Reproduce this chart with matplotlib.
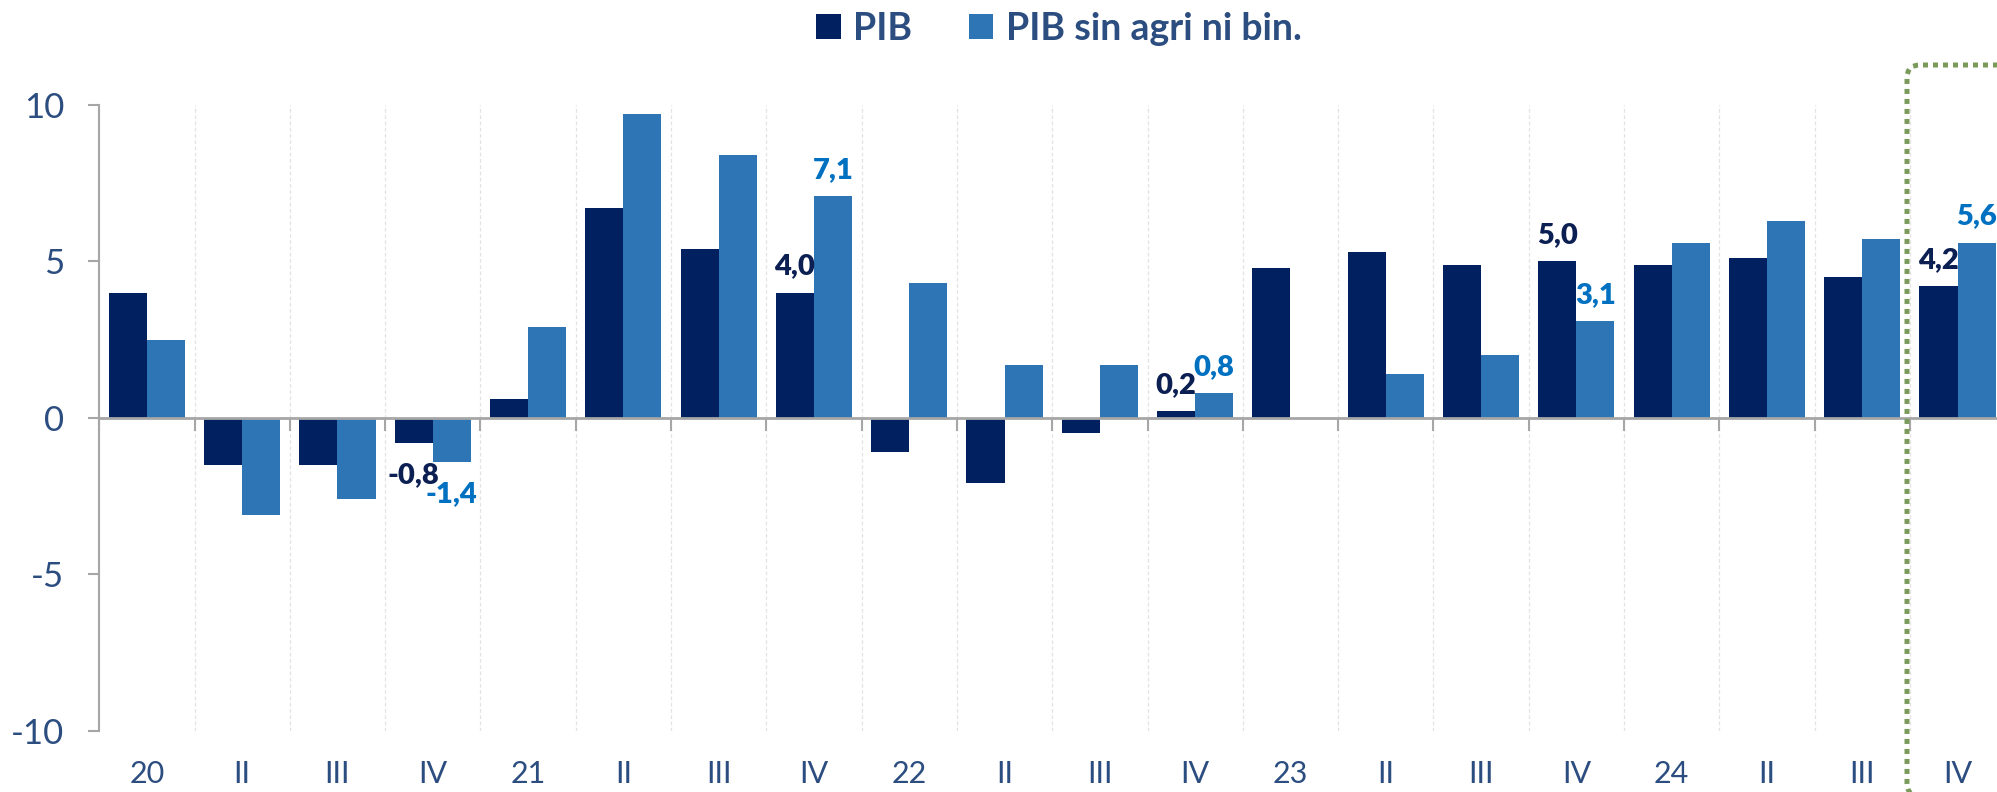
import matplotlib
matplotlib.use("Agg")
import matplotlib.pyplot as plt
from matplotlib.patches import FancyBboxPatch, Patch
import numpy as np

categories = ["20", "II", "III", "IV", "21", "II", "III", "IV", "22", "II", "III", "IV",
              "23", "II", "III", "IV", "24", "II", "III", "IV"]
pib = [4.0, -1.5, -1.5, -0.8, 0.6, 6.7, 5.4, 4.0, -1.1, -2.1, -0.5, 0.2,
       4.8, 5.3, 4.9, 5.0, 4.9, 5.1, 4.5, 4.2]
pib_sin = [2.5, -3.1, -2.6, -1.4, 2.9, 9.7, 8.4, 7.1, 4.3, 1.7, 1.7, 0.8,
           0.0, 1.4, 2.0, 3.1, 5.6, 6.3, 5.7, 5.6]
labeled = [3, 7, 11, 15, 19]
series_names = ["PIB", "PIB sin agri ni bin."]
yticks = [-10, -5, 0, 5, 10]

c_dark = "#002060"
c_light = "#2e75b6"
c_lab_dark = "#0b1f52"
c_lab_light = "#0070c0"
c_text = "#2c4d80"
c_gray = "#a6a6a6"
c_green = "#7a9a5a"

plt.rcParams['font.family'] = ['Lato', 'DejaVu Sans']

W, H = 1997, 792
fig = plt.figure(figsize=(W / 100, H / 100), dpi=100)
ax = fig.add_axes([99.2 / W, (H - 730.5) / H, 1906 / W, 625.5 / H])

x = np.arange(len(categories))
bw = 0.4
ax.bar(x - bw / 2, pib, width=bw, color=c_dark, linewidth=0, zorder=3)
ax.bar(x + bw / 2, pib_sin, width=bw, color=c_light, linewidth=0, zorder=3)

ax.set_xlim(-0.5, len(categories) - 0.5)
ax.set_ylim(-10, 10)

# spines
for s in ["top", "right"]:
    ax.spines[s].set_visible(False)
ax.spines["left"].set_color(c_gray)
ax.spines["left"].set_linewidth(1.5)
ax.spines["bottom"].set_position(("data", 0))
ax.spines["bottom"].set_color(c_gray)
ax.spines["bottom"].set_linewidth(2)
ax.spines["bottom"].set_zorder(4)

# y ticks
ax.set_yticks(yticks)
ax.set_yticklabels([str(v) for v in yticks])
ax.tick_params(axis="y", length=8, width=1.5, color=c_gray, pad=17,
               labelsize=25, labelcolor=c_text)

# x ticks at boundaries (no labels), grid at boundaries
bounds = np.arange(-0.5, len(categories) + 0.5, 1.0)
ax.set_xticks(bounds)
ax.set_xticklabels([])
ax.tick_params(axis="x", length=9, width=1.5, color=c_gray, direction="out")
ax.grid(axis="x", color="#e3e3e3", linewidth=0.9, linestyle=(0, (3, 2)), zorder=0)
ax.grid(axis="y", visible=False)

# category labels
tr = ax.get_xaxis_transform()
for i, lab in enumerate(categories):
    ax.text(i, -0.069, lab, transform=tr, ha="center", va="center",
            fontsize=22, color=c_text)

# data labels
def fmt(v):
    return f"{v:.1f}".replace(".", ",")

for i in labeled:
    for vals, off, col in ((pib, -bw / 2, c_lab_dark), (pib_sin, bw / 2, c_lab_light)):
        v = vals[i]
        dy = 13 if v >= 0 else -29
        ax.annotate(fmt(v), xy=(i + off, v), xytext=(0, dy), textcoords="offset points",
                    ha="center", va="baseline", fontsize=21, fontweight="heavy",
                    color=col, zorder=5, annotation_clip=False)

# legend
handles = [Patch(facecolor=c_dark, edgecolor="none"), Patch(facecolor=c_light, edgecolor="none")]
leg = fig.legend(handles, series_names, loc="center left",
                 bbox_to_anchor=(816 / W, 1 - 29 / H), ncol=2, frameon=False,
                 borderpad=0, borderaxespad=0, handlelength=0.66, handleheight=0.66,
                 handletextpad=0.33, columnspacing=1.5,
                 prop={"size": 27, "weight": "bold", "family": ["Lato", "DejaVu Sans"]})
for t in leg.get_texts():
    t.set_color(c_text)

# green dotted highlight box (figure pixel coordinates)
box = FancyBboxPatch((1907, -4), 160, 792 - 65 + 4, boxstyle="round,pad=0,rounding_size=13",
                     transform=None, fill=False, edgecolor=c_green, linewidth=3.6,
                     linestyle=(0, (1, 1)), clip_on=False, zorder=10)
fig.add_artist(box)

fig.savefig("out.png", dpi=100)
